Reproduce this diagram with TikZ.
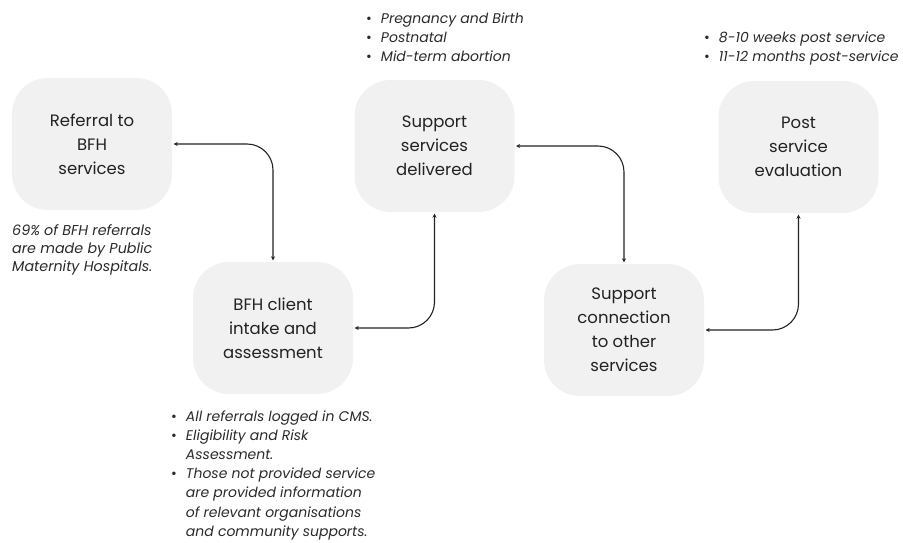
\documentclass[tikz,border=0pt]{standalone}
\usepackage{fontspec}
\setmainfont{Poppins}
\usetikzlibrary{arrows.meta}
\definecolor{boxfill}{HTML}{F1F1F1}
\definecolor{ink}{HTML}{222222}
\definecolor{noteink}{HTML}{2A2A2A}
\tikzset{
  stagebox/.style={rectangle, rounded corners=36pt, fill=boxfill, draw=none,
    minimum width=160pt, minimum height=132pt, align=center, text=ink,
    font=\fontsize{16.5}{24}\selectfont},
  link/.style={{Stealth[length=4pt,width=4pt]}-{Stealth[length=4pt,width=4pt]},
    draw=ink, line width=1.1pt, rounded corners=26pt, shorten <=1.5pt, shorten >=1.5pt},
  note/.style={anchor=north west, align=left, inner sep=0pt, text=noteink,
    font=\fontsize{14.3}{18}\selectfont\itshape},
  bullets/.style={anchor=north west, align=left, inner sep=0pt, text=noteink,
    font=\fontsize{14}{19.1}\selectfont\itshape}
}
\newcommand{\bl}{{\upshape\textbullet}}
\begin{document}
\begin{tikzpicture}[x=1pt,y=-1pt]
\useasboundingbox (0,0) rectangle (903,543);
\node[stagebox] (b1) at (92,144) {Referral to\\BFH\\services};
\node[stagebox] (b2) at (273,328) {BFH client\\intake and\\assessment};
\node[stagebox] (b3) at (434.5,146) {Support\\services\\delivered};
\node[stagebox] (b4) at (624,330) {Support\\connection\\to other\\services};
\node[stagebox] (b5) at (798.5,147) {Post\\service\\evaluation};

\draw[link] (b1.east) -| (b2.north);
\draw[link] (b2.east) -| (b3.south);
\draw[link] (b3.east) -| (b4.north);
\draw[link] (b4.east) -| (b5.south);

\node[note] (n1) at (12,224) {69\% of BFH referrals\\are made by Public\\Maternity Hospitals.};

\node[bullets] (n2) at (171,408) {\begin{tabular}{@{}l@{\hspace{9pt}}l@{}}
\bl & All referrals logged in CMS.\\
\bl & Eligibility and Risk\\
 & Assessment.\\
\bl & Those not provided service\\
 & are provided information\\
 & of relevant organisations\\
 & and community supports.
\end{tabular}};

\node[bullets] (n3) at (366,9.5) {\begin{tabular}{@{}l@{\hspace{9pt}}l@{}}
\bl & Pregnancy and Birth\\
\bl & Postnatal\\
\bl & Mid-term abortion
\end{tabular}};

\node[bullets] (n4) at (704,29) {\begin{tabular}{@{}l@{\hspace{9pt}}l@{}}
\bl & 8-10 weeks post service\\
\bl & 11-12 months post-service
\end{tabular}};
\end{tikzpicture}
\end{document}
